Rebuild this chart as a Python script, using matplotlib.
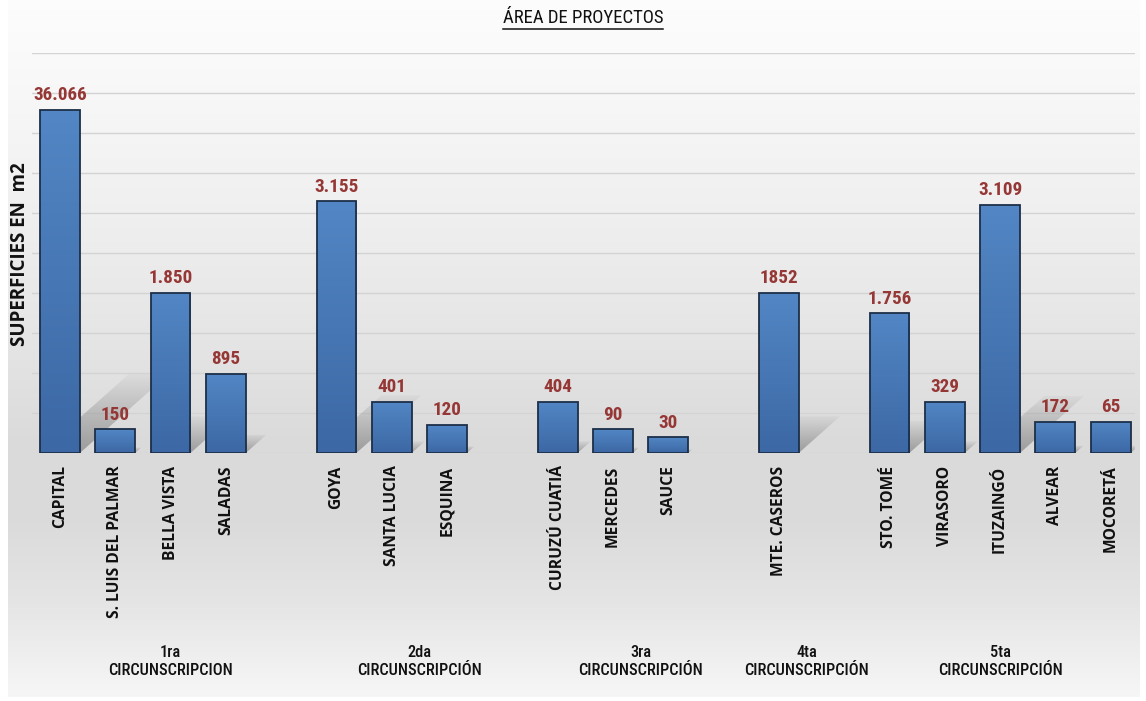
import numpy as np
import matplotlib.pyplot as plt
from matplotlib import font_manager as fm
from matplotlib.font_manager import FontProperties
from matplotlib.patches import Polygon, Rectangle
from matplotlib.lines import Line2D

# ---- data ----
grupos = ['1ra\nCIRCUNSCRIPCION', '2da\nCIRCUNSCRIPCIÓN', '3ra\nCIRCUNSCRIPCIÓN',
          '4ta\nCIRCUNSCRIPCIÓN', '5ta\nCIRCUNSCRIPCIÓN']
municipios = [['CAPITAL', 'S. LUIS DEL PALMAR', 'BELLA VISTA', 'SALADAS'],
              ['GOYA', 'SANTA LUCIA', 'ESQUINA'],
              ['CURUZÚ CUATIÁ', 'MERCEDES', 'SAUCE'],
              ['MTE. CASEROS'],
              ['STO. TOMÉ', 'VIRASORO', 'ITUZAINGÓ', 'ALVEAR', 'MOCORETÁ']]
# drawn bar heights (chart units) and the printed value labels
alturas = [[8.58, 0.59, 4.0, 1.98],
           [6.29, 1.28, 0.70],
           [1.28, 0.59, 0.39],
           [4.0],
           [3.49, 1.28, 6.2, 0.78, 0.78]]
etiquetas = [['36.066', '150', '1.850', '895'],
             ['3.155', '401', '120'],
             ['404', '90', '30'],
             ['1852'],
             ['1.756', '329', '3.109', '172', '65']]


def narrow_font(weight):
    """pick an installed condensed/narrow face close to the wanted weight"""
    order = ['Liberation Sans Narrow', 'Roboto', 'Open Sans', 'Noto Sans', 'Lato', 'DejaVu Sans']
    best, best_score = None, None
    for f in fm.fontManager.ttflist:
        if f.style != 'normal':
            continue
        if not (f.stretch in ('condensed', 'semi-condensed', 'extra-condensed')
                or 'Condensed' in f.name or 'Narrow' in f.name):
            continue
        rank = next((i for i, k in enumerate(order) if f.name.startswith(k)), 9)
        w = f.weight if isinstance(f.weight, int) else fm.weight_dict.get(f.weight, 400)
        score = abs(w - weight) + 60 * rank
        if best_score is None or score < best_score:
            best, best_score = f, score
    if best is None:
        return FontProperties(family='Open Sans', weight=weight)
    return FontProperties(fname=best.fname)


F_VALUE = narrow_font(700)
F_GROUP = narrow_font(500)
F_TITLE = narrow_font(400)
F_CAT = FontProperties(family='Open Sans', weight='bold')

W, H = 1146, 701
fig = plt.figure(figsize=(W / 100, H / 100), dpi=100)
renderer = fig.canvas.get_renderer()


def fit_size(txt, fp, target_px, base=10.0):
    t = fig.text(0, 0, txt, fontproperties=fp, fontsize=base)
    w = t.get_window_extent(renderer).width
    t.remove()
    return base * target_px / w


# the condensed faces are narrower than the original's, so go a bit wider
s_value = min(fit_size('36.066', F_VALUE, 54), 14.5)
s_group = min(fit_size('CIRCUNSCRIPCION', F_GROUP, 124), 12.5)
s_title = min(fit_size('ÁREA DE PROYECTOS', F_TITLE, 165), 13.5)
s_cat = fit_size('S. LUIS DEL PALMAR', F_CAT, 153)
s_ylab = fit_size('SUPERFICIES EN  m2', F_CAT, 184)

# background panel with vertical gray gradient
bg = fig.add_axes([8 / W, 0.005, 1132 / W, 0.995], zorder=-2)
t = np.linspace(0, 1, 400)
g = np.interp(t, [0, 0.08, 0.3, 0.5, 0.64, 0.74, 0.86, 1.0],
              [0.99, 0.98, 0.94, 0.895, 0.855, 0.855, 0.895, 0.965])
bgimg = np.repeat(np.stack([g, g, g], axis=-1)[:, None, :], 2, axis=1)
bg.imshow(bgimg, aspect='auto', extent=[0, 1, 0, 1])
bg.set_axis_off()

# main axes
ax = fig.add_axes([32 / W, (H - 453) / H, (1135 - 32) / W, 400 / H])
ax.patch.set_alpha(0)
for s in ax.spines.values():
    s.set_visible(False)

# slot positions: one empty slot after each group except the last
xs, hs, labs, names_flat, centers = [], [], [], [], []
slot = 0
for gi, (mun, alt, et) in enumerate(zip(municipios, alturas, etiquetas)):
    first = slot
    for m, a, e in zip(mun, alt, et):
        xs.append(slot); hs.append(a); labs.append(e); names_flat.append(m)
        slot += 1
    last = slot - 1
    if gi < len(municipios) - 1:
        last = slot
        slot += 1
    centers.append((first + last) / 2)

ax.set_xlim(-0.506, 19.44)
ax.set_ylim(0, 10)
ax.set_yticks(np.arange(0, 11, 1))
ax.set_yticklabels([])
ax.set_xticks([])
ax.tick_params(axis='y', length=0)
ax.grid(axis='y', color='#d3d3d3', lw=1.0, zorder=0)
ax.set_axisbelow(True)

bw = 0.72
px = ax.transData.transform([(0, 0), (1, 1)])
px_x, px_y = px[1] - px[0]

# perspective shadows (fade upward)
for x, h in zip(xs, hs):
    sh = 0.23 * h
    dx = 1.125 * sh * px_y / px_x
    x0, x1 = x - bw / 2, x + bw / 2
    poly = Polygon([(x0, 0), (x1, 0), (x1 + dx, sh), (x0 + dx, sh)], closed=True,
                   facecolor='none', edgecolor='none', transform=ax.transData)
    ax.add_patch(poly)
    a = np.linspace(0.6, 0.05, 64)[:, None]
    img = np.zeros((64, 2, 4))
    img[..., :3] = 0.45
    img[..., 3] = a
    im = ax.imshow(img, extent=[x0, x1 + dx, 0, sh], aspect='auto', origin='lower',
                   zorder=1, interpolation='bilinear')
    im.set_clip_path(poly)

# gradient bars
top_c = np.array([82, 134, 196]) / 255
bot_c = np.array([60, 104, 165]) / 255
for x, h, lab, nm in zip(xs, hs, labs, names_flat):
    rect = Rectangle((x - bw / 2, 0), bw, h, facecolor='none', edgecolor='#1c2f48',
                     lw=1.3, zorder=4)
    ax.add_patch(rect)
    f = np.linspace(0, 1, 64)[:, None]
    col = bot_c * (1 - f) + top_c * f
    img = np.repeat(col[:, None, :], 2, axis=1)
    im = ax.imshow(img, extent=[x - bw / 2, x + bw / 2, 0, h], aspect='auto',
                   origin='lower', zorder=3, interpolation='bilinear')
    im.set_clip_path(rect)
    ax.annotate(lab, (x, h), xytext=(0, 4), textcoords='offset points',
                ha='center', va='bottom', fontproperties=F_VALUE, fontsize=s_value,
                color='#953735')
    ax.annotate(nm, (x, 0), xytext=(0, -9), textcoords='offset points',
                ha='center', va='top', rotation=90, fontproperties=F_CAT,
                fontsize=s_cat, color='#111111')

for c, gname in zip(centers, grupos):
    ax.annotate(gname, (c, 0), xytext=(0, -150), textcoords='offset points',
                ha='center', va='center', fontproperties=F_GROUP, fontsize=s_group,
                color='#111111', linespacing=1.3, annotation_clip=False)

ax.set_xlim(-0.506, 19.44)
ax.set_ylim(0, 10)

fig.text(20 / W, 1 - 254 / H, 'SUPERFICIES EN  m2', rotation=90, ha='center',
         va='center', fontproperties=F_CAT, fontsize=s_ylab, color='#111111')

title = fig.text(583 / W, 1 - 18 / H, 'ÁREA DE PROYECTOS', ha='center', va='center',
                 fontproperties=F_TITLE, fontsize=s_title, color='#111111')
fig.canvas.draw()
bb = title.get_window_extent()
fig.add_artist(Line2D([bb.x0 / W, bb.x1 / W], [(bb.y0 - 1.5) / H] * 2,
                      color='#111111', lw=1.1, transform=fig.transFigure))

fig.savefig('out.png', dpi=100)
